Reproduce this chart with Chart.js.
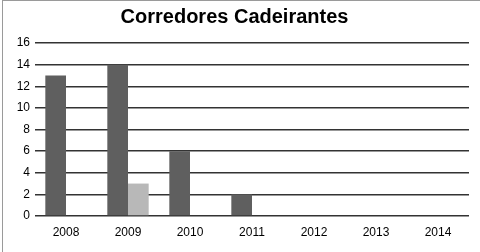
<!DOCTYPE html>
<html>
<head>
<meta charset="utf-8">
<script src="https://cdn.jsdelivr.net/npm/chart.js@4"></script>
<style>
  html, body { margin: 0; padding: 0; background: #fff; }
  #wrap { position: relative; width: 480px; height: 252px; overflow: hidden; }
  #frame { position: absolute; left: 2px; top: 0; width: 490px; height: 270px; border-left: 1px solid #9a9a9a; border-top: 1px solid #9a9a9a; box-sizing: border-box; pointer-events: none; }
  canvas { position: absolute; left: 0; top: 0; }
</style>
</head>
<body>
<div id="wrap">
  <canvas id="c" width="480" height="252"></canvas>
  <div id="frame"></div>
</div>
<script>
const titleText = "Corredores Cadeirantes";
const categories = ["2008", "2009", "2010", "2011", "2012", "2013", "2014"];
const seriesA = [13, 14, 6, 2, 0, 0, 0];
const seriesB = [0, 3, 0, 0, 0, 0, 0];
const yTicks = [0, 2, 4, 6, 8, 10, 12, 14, 16];

new Chart(document.getElementById('c'), {
  type: 'bar',
  data: {
    labels: categories,
    datasets: [
      { data: seriesA, backgroundColor: '#5f5f5f', borderWidth: 0, categoryPercentage: 0.667, barPercentage: 1 },
      { data: seriesB, backgroundColor: '#b8b8b8', borderWidth: 0, categoryPercentage: 0.667, barPercentage: 1 }
    ]
  },
  options: {
    responsive: false,
    animation: false,
    devicePixelRatio: 1,
    layout: { padding: { left: 0, right: 11, top: 0, bottom: 0 } },
    plugins: {
      legend: { display: false },
      tooltip: { enabled: false },
      title: {
        display: true,
        text: titleText,
        color: '#000',
        font: { family: 'Liberation Sans', size: 20, weight: 'bold' },
        padding: { top: 5, bottom: 14 }
      }
    },
    scales: {
      x: {
        grid: { display: false },
        border: { display: false },
        ticks: { color: '#000', font: { family: 'Liberation Sans', size: 12 }, padding: 1, maxRotation: 0 },
        afterFit: (s) => { s.height = 36; }
      },
      y: {
        min: 0, max: 16,
        afterBuildTicks: (s) => { s.ticks = yTicks.map(v => ({ value: v })); },
        grid: { color: '#333333', lineWidth: 1.5, drawTicks: false },
        border: { display: false },
        ticks: { color: '#000', font: { family: 'Liberation Sans', size: 12 }, padding: 5 },
        afterFit: (s) => { s.width = 35; }
      }
    }
  }
});
</script>
</body>
</html>
